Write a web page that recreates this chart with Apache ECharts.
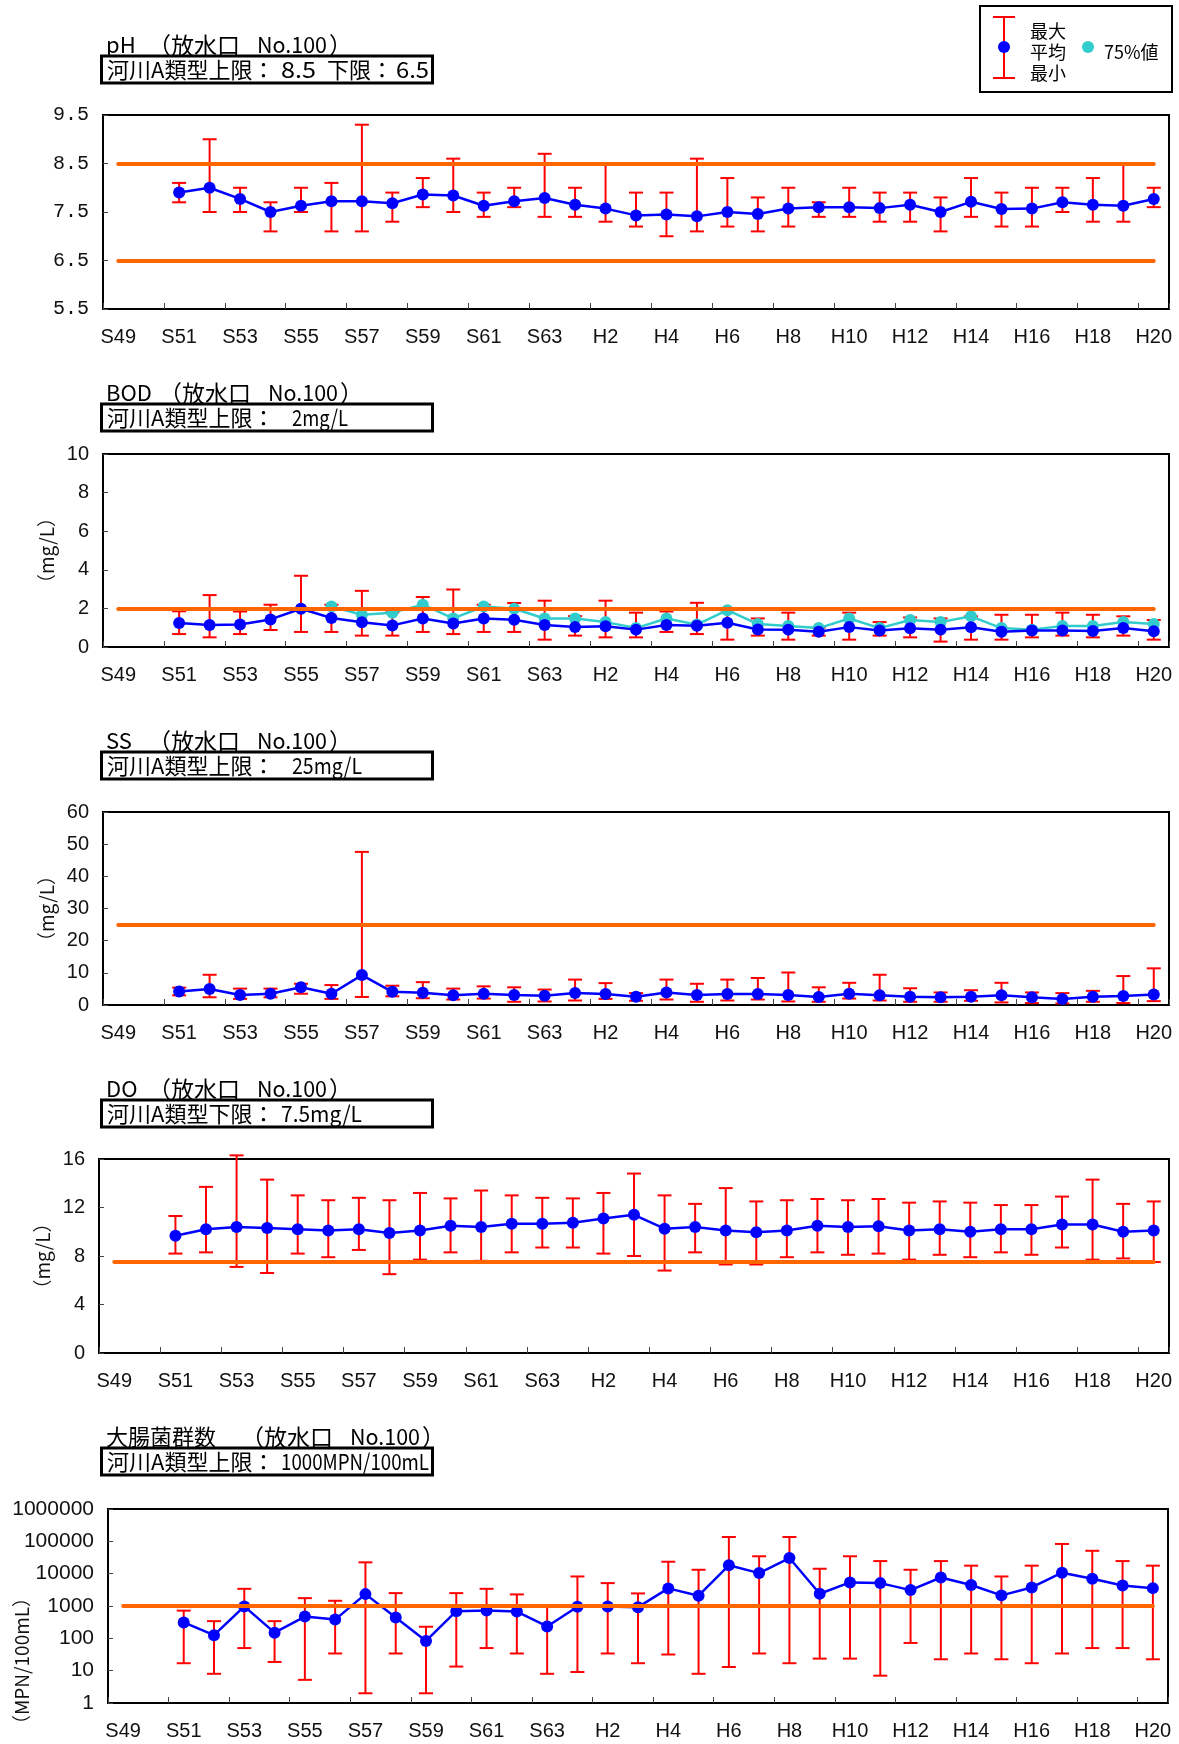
<!DOCTYPE html>
<html>
<head>
<meta charset="utf-8">
<script src="https://cdn.jsdelivr.net/npm/echarts@6/dist/echarts.min.js"></script>
<style>
  html, body { margin: 0; padding: 0; background: #fff; }
  #main { width: 1179px; height: 1744px; }
</style>
</head>
<body>
<div id="main"></div>
<script>
// 年度（S49〜H20）
const years = ['S49','S50','S51','S52','S53','S54','S55','S56','S57','S58','S59','S60','S61','S62','S63',
  'H1','H2','H3','H4','H5','H6','H7','H8','H9','H10','H11','H12','H13','H14','H15','H16','H17','H18','H19','H20'];

// pH
const phMean = [null,null,7.90,8.00,7.77,7.50,7.63,7.72,7.72,7.68,7.86,7.84,7.63,7.72,7.79,7.65,
  7.57,7.43,7.45,7.41,7.50,7.46,7.57,7.60,7.60,7.58,7.65,7.50,7.71,7.56,7.57,7.70,7.65,7.63,7.77];
const phMax = [null,null,8.1,9.0,8.0,7.7,8.0,8.1,9.3,7.9,8.2,8.6,7.9,8.0,8.7,8.0,
  8.5,7.9,7.9,8.6,8.2,7.8,8.0,7.7,8.0,7.9,7.9,7.8,8.2,7.9,8.0,8.0,8.2,8.5,8.0];
const phMin = [null,null,7.7,7.5,7.5,7.1,7.5,7.1,7.1,7.3,7.6,7.5,7.4,7.6,7.4,7.4,
  7.3,7.2,7.0,7.1,7.2,7.1,7.2,7.4,7.4,7.3,7.3,7.1,7.4,7.2,7.2,7.5,7.3,7.3,7.6];

// BOD
const bodMean = [null,null,1.24,1.14,1.17,1.43,1.98,1.50,1.28,1.12,1.48,1.22,1.48,1.41,1.14,1.03,
  1.07,0.90,1.14,1.10,1.26,0.91,0.90,0.79,1.03,0.86,0.97,0.90,1.02,0.79,0.86,0.86,0.83,0.98,0.81];
const bodMax = [null,null,1.85,2.69,1.84,2.19,3.69,2.19,2.91,1.80,2.59,2.98,2.19,2.28,2.40,1.60,
  2.40,1.78,1.84,2.29,1.90,1.48,1.78,1.00,1.78,1.29,1.53,1.48,1.59,1.67,1.67,1.78,1.67,1.59,1.40];
const bodMin = [null,null,0.67,0.50,0.67,0.88,0.78,0.78,0.59,0.59,0.78,0.67,0.78,0.78,0.38,0.59,
  0.50,0.50,0.78,0.67,0.38,0.59,0.38,0.59,0.38,0.59,0.50,0.28,0.38,0.38,0.50,0.59,0.50,0.59,0.38];
const bod75 = [null,null,null,null,null,null,null,2.10,1.67,1.78,2.19,1.48,2.10,1.98,1.48,1.48,
  1.29,0.98,1.48,1.16,1.91,1.19,1.09,0.98,1.48,0.98,1.40,1.29,1.59,0.98,0.90,1.09,1.09,1.29,1.19];

// SS
const ssMean = [null,null,4.2,5.0,3.1,3.5,5.5,3.5,9.3,4.1,3.8,3.0,3.5,3.1,2.9,3.7,
  3.4,2.6,3.9,3.1,3.4,3.4,3.1,2.5,3.5,3.0,2.6,2.4,2.6,3.0,2.4,1.9,2.6,2.8,3.3];
const ssMax = [null,null,5.4,9.4,5.1,5.1,6.6,6.2,47.6,6.0,7.1,5.1,5.8,5.5,4.8,7.9,
  6.8,3.7,7.9,6.6,7.9,8.4,10.1,5.5,6.9,9.4,5.2,3.9,4.6,6.9,3.9,3.7,4.4,9.0,11.4];
const ssMin = [null,null,3.0,2.4,1.9,2.4,3.5,1.9,2.5,2.7,2.1,1.7,2.0,1.0,1.1,1.4,
  1.9,1.3,1.7,1.0,1.4,1.7,1.1,1.0,2.0,1.4,1.0,1.0,1.3,0.8,0.6,0.5,1.0,0.6,1.2];

// DO
const doMean = [null,null,9.67,10.2,10.4,10.3,10.2,10.1,10.2,9.9,10.1,10.5,10.4,10.66,10.66,10.74,
  11.1,11.4,10.25,10.4,10.1,9.95,10.1,10.5,10.4,10.45,10.1,10.2,10.0,10.2,10.2,10.6,10.6,10.0,10.1];
const doMax = [null,null,11.3,13.7,16.3,14.3,13.0,12.6,12.8,12.6,13.2,12.75,13.4,13.0,12.8,12.75,
  13.2,14.8,13.0,12.3,13.6,12.5,12.6,12.7,12.6,12.7,12.4,12.5,12.4,12.2,12.2,12.9,14.3,12.3,12.5];
const doMin = [null,null,8.2,8.3,7.1,6.6,8.2,7.9,8.5,6.5,7.7,8.3,7.6,8.3,8.7,8.7,
  8.2,8.0,6.8,8.3,7.3,7.3,7.9,8.3,8.1,8.2,7.7,8.1,7.9,8.3,8.1,8.7,7.7,7.8,7.5];

// 大腸菌群数
const coliMean = [null,null,310,125,970,150,470,380,2330,440,83,690,720,675,233,950,
  970,920,3500,2080,18100,10400,30400,2390,5350,5100,3100,7600,4450,2130,3750,10700,6950,4300,3570];
const coliMax = [null,null,720,340,3400,340,1750,1450,22400,2500,228,2500,3400,2280,1000,8200,
  5100,2450,23400,13200,136000,34500,136000,14200,34500,24500,13200,24500,17700,8200,17700,83000,51000,24500,17700];
const coliMin = [null,null,17,8,50,18.6,5.2,34,2,34,2,13.4,50,34,8,9.1,
  34,17,31.6,8,13,34,17,23.6,23.6,7,72,22.5,34,22.5,17,34,50,50,22.5];

// 基準値
const phLimits = [8.5, 6.5];
const bodLimits = [2];
const ssLimits = [25];
const doLimits = [7.5];
const coliLimits = [1000];

const FONT_JP = '"Noto Sans CJK JP", sans-serif';
const FONT_AX = '"Liberation Sans", Arial, sans-serif';

const measureCtx = document.createElement('canvas').getContext('2d');
// 指定した幅に収まるよう横方向に伸縮したテキスト
function fitText(text, x0, x1, y, size) {
  const font = size + 'px ' + FONT_JP;
  measureCtx.font = font;
  const w = measureCtx.measureText(text).width;
  return { type: 'text', x: x0, y: y, scaleX: (x1 - x0) / w,
    style: { text: text, font: font, fill: '#000', verticalAlign: 'middle' } };
}
function plainText(text, x, y, size) {
  return { type: 'text', x: x, y: y,
    style: { text: text, font: size + 'px ' + FONT_JP, fill: '#000', verticalAlign: 'middle' } };
}

function errorBars(params, api) {
  const x = api.value(0);
  const lo = api.coord([x, api.value(1)]);
  const hi = api.coord([x, api.value(2)]);
  const w = 7;
  const st = { stroke: '#ff0000', lineWidth: 2 };
  return {
    type: 'group',
    children: [
      { type: 'line', shape: { x1: hi[0], y1: hi[1], x2: lo[0], y2: lo[1] }, style: st },
      { type: 'line', shape: { x1: hi[0] - w, y1: hi[1], x2: hi[0] + w, y2: hi[1] }, style: st },
      { type: 'line', shape: { x1: lo[0] - w, y1: lo[1], x2: lo[0] + w, y2: lo[1] }, style: st }
    ]
  };
}

const panels = [
  { name: 'pH', ty: 45, paren: 148,
    std: [['河川A類型上限：', 107], ['8.5', 281, 316], ['下限：', 327], ['6.5', 396, 429]],
    grid: { left: 103, top: 115, width: 1066, height: 194 },
    y: { min: 5.5, max: 9.5, interval: 1 }, mono: true,
    mean: phMean, max: phMax, min: phMin, limits: phLimits },
  { name: 'BOD', ty: 393, paren: 159,
    std: [['河川A類型上限：', 107], ['2mg/L', 292, 348]],
    grid: { left: 103, top: 454, width: 1066, height: 193 },
    y: { min: 0, max: 10, interval: 2 }, unit: '（mg/L）',
    mean: bodMean, max: bodMax, min: bodMin, p75: bod75, limits: bodLimits },
  { name: 'SS', ty: 741, paren: 148,
    std: [['河川A類型上限：', 107], ['25mg/L', 292, 362]],
    grid: { left: 103, top: 812, width: 1066, height: 193 },
    y: { min: 0, max: 60, interval: 10 }, unit: '（mg/L）',
    mean: ssMean, max: ssMax, min: ssMin, limits: ssLimits },
  { name: 'DO', ty: 1089, paren: 148,
    std: [['河川A類型下限：', 107], ['7.5mg/L', 281, 362]],
    grid: { left: 99, top: 1159, width: 1070, height: 194 },
    y: { min: 0, max: 16, interval: 4 }, unit: '（mg/L）',
    mean: doMean, max: doMax, min: doMin, limits: doLimits },
  { name: '大腸菌群数', ty: 1437, paren: 241,
    std: [['河川A類型上限：', 107], ['1000MPN/100mL', 281, 429]],
    grid: { left: 108, top: 1509, width: 1060, height: 194 },
    y: { log: true, min: 1, max: 1000000 },
    mean: coliMean, max: coliMax, min: coliMin, limits: coliLimits }
];

const grids = [], xAxes = [], yAxes = [], series = [], graphics = [];

panels.forEach(function (p, i) {
  grids.push(Object.assign({ show: true, borderColor: '#000', borderWidth: 2, backgroundColor: 'transparent' }, p.grid));

  xAxes.push({
    type: 'category', gridIndex: i, data: years, boundaryGap: true,
    axisLine: { show: true, lineStyle: { color: '#000', width: 2 } },
    axisTick: { show: true, inside: true, length: 6, interval: 1, lineStyle: { color: '#444', width: 1 } },
    axisLabel: { interval: 1, margin: 18, fontSize: 20, fontFamily: FONT_AX, color: '#111' }
  });

  const y = {
    gridIndex: i, splitLine: { show: false },
    axisLine: { show: true, lineStyle: { color: '#000', width: 2 } },
    axisTick: { show: true, inside: true, length: 5, lineStyle: { color: '#444' } },
    axisLabel: { margin: 14, fontSize: 20, fontFamily: FONT_AX, color: '#111' }
  };
  if (p.y.log) {
    Object.assign(y, { type: 'log', logBase: 10, min: p.y.min, max: p.y.max });
    y.axisLabel.fontSize = 21;
    y.axisLabel.formatter = function (v) { return String(Math.round(v)); };
  } else {
    Object.assign(y, { type: 'value', min: p.y.min, max: p.y.max, interval: p.y.interval });
  }
  if (p.mono) {
    y.axisLabel.fontFamily = '"Liberation Mono", monospace';
    y.axisLabel.fontSize = 20;
    y.axisLabel.formatter = function (v) { return v.toFixed(1); };
  }
  if (p.unit) {
    Object.assign(y, {
      name: p.unit, nameLocation: 'middle', nameRotate: 90, nameGap: 47,
      nameTextStyle: { fontSize: 19, fontFamily: FONT_JP, color: '#111' }
    });
  }
  yAxes.push(y);

  // 基準線
  series.push({
    type: 'line', xAxisIndex: i, yAxisIndex: i, data: [], z: 1, silent: true,
    markLine: {
      silent: true, symbol: 'none', label: { show: false },
      lineStyle: { color: '#ff6600', width: 4, type: 'solid', cap: 'round' },
      data: p.limits.map(function (v) {
        return [{ coord: [years[0], v] }, { coord: [years[years.length - 1], v] }];
      })
    }
  });

  // 最大・最小
  const bars = [];
  years.forEach(function (yr, k) {
    if (p.min[k] != null) bars.push([k, p.min[k], p.max[k]]);
  });
  series.push({
    type: 'custom', xAxisIndex: i, yAxisIndex: i, z: 2, silent: true,
    renderItem: errorBars, encode: { x: 0, y: [1, 2] }, data: bars
  });

  // 75%値
  if (p.p75) {
    series.push({
      name: '75%値', type: 'line', xAxisIndex: i, yAxisIndex: i, z: 3, data: p.p75,
      symbol: 'circle', symbolSize: 12,
      lineStyle: { color: '#33cccc', width: 2.5 }, itemStyle: { color: '#33cccc' }
    });
  }

  // 平均
  series.push({
    name: '平均', type: 'line', xAxisIndex: i, yAxisIndex: i, z: 4, data: p.mean,
    symbol: 'circle', symbolSize: 12,
    lineStyle: { color: '#0000ff', width: 2.5 }, itemStyle: { color: '#0000ff' }
  });

  // タイトル
  graphics.push(plainText(p.name, 106, p.ty, 22));
  graphics.push(plainText('（放水口', p.paren, p.ty, 23));
  graphics.push(fitText('No.100', p.paren + 109, p.paren + 179, p.ty, 22));
  graphics.push(plainText('）', p.paren + 181, p.ty, 23));

  // 基準値の枠
  graphics.push({ type: 'rect', shape: { x: 101.5, y: p.ty + 11, width: 331, height: 27 },
    style: { fill: '#fff', stroke: '#000', lineWidth: 3 } });
  p.std.forEach(function (s) {
    graphics.push(s.length > 2 ? fitText(s[0], s[1], s[2], p.ty + 24.5, 22) : plainText(s[0], s[1], p.ty + 24.5, 22));
  });
});

// 大腸菌群数の単位
graphics.push({ type: 'text', x: 22, y: 1661, rotation: Math.PI / 2,
  style: { text: '（MPN/100mL）', font: '19px ' + FONT_JP, fill: '#111', align: 'center', verticalAlign: 'middle' } });

// 凡例
const red = { stroke: '#ff0000', lineWidth: 2 };
graphics.push({
  type: 'group', z: 100,
  children: [
    { type: 'rect', shape: { x: 980, y: 6, width: 192, height: 86 }, style: { fill: '#fff', stroke: '#000', lineWidth: 2 } },
    { type: 'line', shape: { x1: 1004, y1: 17, x2: 1004, y2: 78 }, style: red },
    { type: 'line', shape: { x1: 993, y1: 17, x2: 1015, y2: 17 }, style: red },
    { type: 'line', shape: { x1: 993, y1: 78, x2: 1015, y2: 78 }, style: red },
    { type: 'circle', shape: { cx: 1004, cy: 47, r: 6 }, style: { fill: '#0000ff' } },
    plainText('最大', 1030, 31, 18),
    plainText('平均', 1030, 52, 18),
    plainText('最小', 1030, 73, 18),
    { type: 'circle', shape: { cx: 1088, cy: 47, r: 6 }, style: { fill: '#33cccc' } },
    plainText('75%値', 1104, 52, 18)
  ]
});

const chart = echarts.init(document.getElementById('main'));
chart.setOption({
  animation: false,
  backgroundColor: '#fff',
  grid: grids,
  xAxis: xAxes,
  yAxis: yAxes,
  series: series,
  graphic: graphics
});
</script>
</body>
</html>
